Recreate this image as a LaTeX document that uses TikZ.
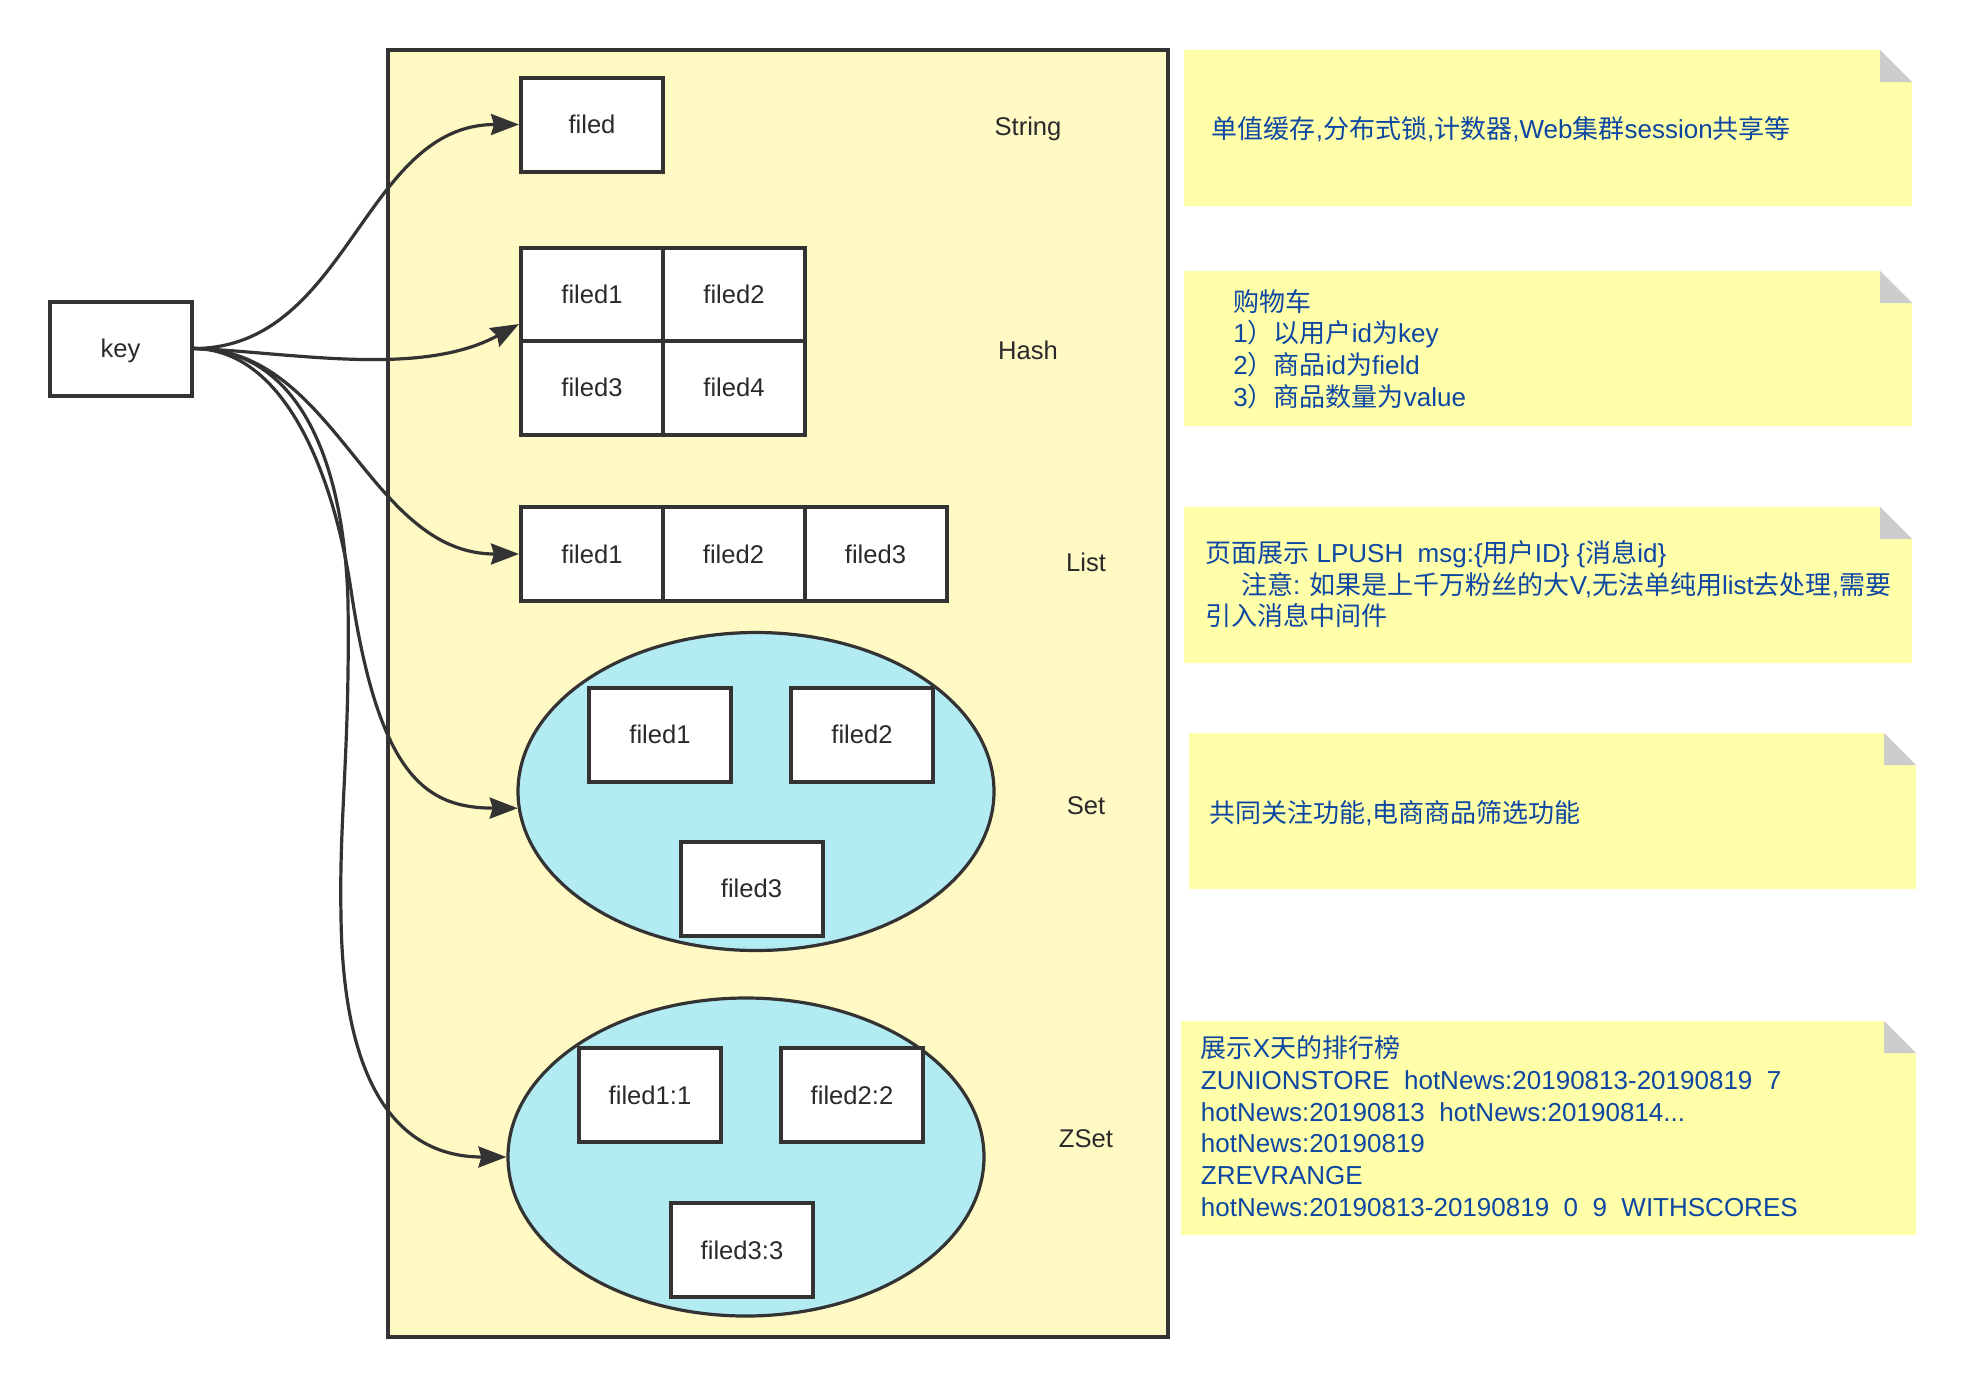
\documentclass[tikz,border=0pt]{standalone}
\usepackage{fontspec}
\setmainfont{Liberation Sans}
\newfontfamily\zhfont{Noto Sans CJK SC}
\newcommand\zh[1]{{\zhfont #1}}
\usetikzlibrary{arrows.meta,calc,shapes.geometric}
\definecolor{edge}{HTML}{333333}
\definecolor{contfill}{HTML}{FFF9C4}
\definecolor{notefill}{HTML}{FFFFAA}
\definecolor{foldgray}{HTML}{CCCCCC}
\definecolor{setfill}{HTML}{B2EBF2}
\definecolor{notetext}{HTML}{0D47A1}
\definecolor{labeltext}{HTML}{2A2A2A}
\begin{document}
\begin{tikzpicture}[x=0.5pt,y=-0.5pt,
  fbox/.style={draw=edge,line width=2pt,fill=white,minimum width=71pt,minimum height=47pt,inner sep=0pt,
    font=\fontsize{12.8pt}{15pt}\selectfont,text=labeltext,text height=9.2pt,text depth=0pt},
  lbl/.style={inner sep=0pt,font=\fontsize{12.8pt}{15pt}\selectfont,text=labeltext,text height=9.2pt,text depth=0pt},
  conn/.style={draw=edge,line width=1.6pt,-{Stealth[length=14pt,width=10.5pt,inset=1.5pt]}},
  coll/.style={draw=edge,fill=setfill,ellipse,line width=1.6pt,minimum width=238pt,minimum height=159pt,inner sep=0pt},
  notebg/.style={fill=notefill},
  foldtri/.style={fill=foldgray},
  ntext/.style={anchor=base west,inner sep=0pt,text=notetext,font=\fontsize{13pt}{15.85pt}\selectfont},
]
\fill[white] (0,0) rectangle (1966,1388);
\useasboundingbox (0,0) rectangle (1966,1388);

% container
\node[draw=edge,fill=contfill,line width=1.7pt,minimum width=390pt,minimum height=643.5pt,inner sep=0pt] (cont) at (778,693.5) {};

% key
\node[fbox] (key) at (120.5,348.5) {key};

% String
\node[fbox] (str) at (592,124.5) {filed};
\node[lbl] (lstr) at (1028,126) {String};

% Hash
\node[fbox] (h1) at (592,294.5) {filed1};
\node[fbox] (h2) at (734,294.5) {filed2};
\node[fbox] (h3) at (592,387.5) {filed3};
\node[fbox] (h4) at (734,387.5) {filed4};
\node[lbl] (lhash) at (1028,350) {Hash};

% List
\node[fbox] (l1) at (592,554) {filed1};
\node[fbox] (l2) at (733.5,554) {filed2};
\node[fbox] (l3) at (875.5,554) {filed3};
\node[lbl] (llist) at (1086,562) {List};

% Set
\node[coll] (set) at (756,791.5) {};
\node[fbox] (s1) at (660,734.5) {filed1};
\node[fbox] (s2) at (862,734.5) {filed2};
\node[fbox] (s3) at (751.5,888.5) {filed3};
\node[lbl] (lset) at (1086,805) {Set};

% ZSet
\node[coll] (zset) at (746,1157) {};
\node[fbox] (z1) at (650,1095) {filed1:1};
\node[fbox] (z2) at (852,1095) {filed2:2};
\node[fbox] (z3) at (742,1250) {filed3:3};
\node[lbl] (lzset) at (1086,1138) {ZSet};

% connectors
\draw[conn] (key.east) .. controls +(155,0) and +(-156,0) .. (str.west);
\draw[conn] (key.east) .. controls (290,352) and (420,378) .. (h1.202.6);
\draw[conn] (key.east) .. controls (336,348) and (368,554) .. (l1.west);
\draw[conn] (key.east) .. controls (286,349) and (334,477) .. (351,590)
  .. controls (379,778) and (427,808) .. (set.184);
\draw[conn] (key.east) .. controls (301,349) and (344,464) .. (348,602)
  .. controls (350,753) and (339,816) .. (341,916)
  .. controls (343,1092) and (402,1157) .. (zset.west);

% notes
\fill[notebg] (1184,50) -- (1880,50) -- (1912,82) -- (1912,206) -- (1184,206) -- cycle;
\fill[foldtri] (1880,50) -- (1912,82) -- (1880,82) -- cycle;
\node[ntext] (n1) at (1211.5,138.5) {\zh{单值缓存},\zh{分布式锁},\zh{计数器},Web\zh{集群}session\zh{共享等}};

\fill[notebg] (1184,271) -- (1880,271) -- (1912,303) -- (1912,426) -- (1184,426) -- cycle;
\fill[foldtri] (1880,271) -- (1912,303) -- (1880,303) -- cycle;
\node[ntext] (n2a) at (1233,311.2) {\zh{购物车}};
\node[ntext] (n2b) at (1233,342.8) {1\zh{）以用户}id\zh{为}key};
\node[ntext] (n2c) at (1233,374.5) {2\zh{）商品}id\zh{为}field};
\node[ntext] (n2d) at (1233,406.2) {3\zh{）商品数量为}value};

\fill[notebg] (1184,507) -- (1880,507) -- (1912,539) -- (1912,663) -- (1184,663) -- cycle;
\fill[foldtri] (1880,507) -- (1912,539) -- (1880,539) -- cycle;
\node[ntext] (n3a) at (1205,562.5) {\zh{页面展示} LPUSH\ \ msg:\{\zh{用户}ID\} \{\zh{消息}id\}};
\node[ntext] (n3b) at (1240.6,594.2) {\zh{注意}: \zh{如果是上千万粉丝的大}V,\zh{无法单纯用}list\zh{去处理},\zh{需要}};
\node[ntext] (n3c) at (1205,625.9) {\zh{引入消息中间件}};

\fill[notebg] (1189,733) -- (1884,733) -- (1916,765) -- (1916,889) -- (1189,889) -- cycle;
\fill[foldtri] (1884,733) -- (1916,765) -- (1884,765) -- cycle;
\node[ntext] (n4) at (1209,822.5) {\zh{共同关注功能},\zh{电商商品筛选功能}};

\fill[notebg] (1181,1021) -- (1884,1021) -- (1916,1053) -- (1916,1235) -- (1181,1235) -- cycle;
\fill[foldtri] (1884,1021) -- (1916,1053) -- (1884,1053) -- cycle;
\node[ntext] (n5a) at (1200.5,1057.8) {\zh{展示}X\zh{天的排行榜}};
\node[ntext] (n5b) at (1200.5,1089.5) {ZUNIONSTORE\ \ hotNews:20190813-20190819\ \ 7};
\node[ntext] (n5c) at (1200.5,1121.2) {hotNews:20190813\ \ hotNews:20190814...};
\node[ntext] (n5d) at (1200.5,1152.9) {hotNews:20190819};
\node[ntext] (n5e) at (1200.5,1184.6) {ZREVRANGE};
\node[ntext] (n5f) at (1200.5,1216.3) {hotNews:20190813-20190819\ \ 0\ \ 9\ \ WITHSCORES};
\end{tikzpicture}
\end{document}
